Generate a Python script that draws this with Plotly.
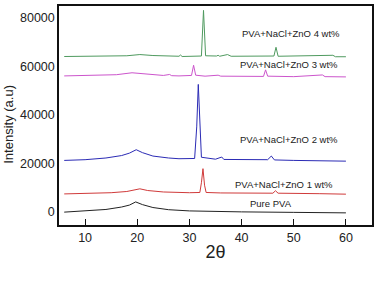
import plotly.graph_objects as go

# Pure PVA
x_pva = [6, 10, 14, 17, 18.5, 19.7, 21, 23, 26, 30, 35, 40, 50, 60]
y_pva = [-100, 300, 1000, 2000, 2800, 4100, 3000, 1800, 900, 400, 100, 0, -200, -400]

# 1 wt%
x_1 = [6, 10, 15, 18, 20.5, 22, 25, 30, 32, 32.3, 32.6, 32.9, 33.2, 36, 46, 46.5, 47, 55, 60]
y_1 = [7400, 7500, 7900, 8400, 9500, 8800, 8200, 7900, 8000, 12000, 17800, 11000, 8000, 7800, 7700, 8700, 7700, 7500, 7300]

# 2 wt%
x_2 = [6, 10, 14, 17, 18.5, 19.8, 21, 23, 26, 28, 31, 31.4, 31.7, 32.0, 32.3, 35, 36.2, 36.6, 45, 45.7, 46.3, 50, 56, 60]
y_2 = [21200, 21500, 22200, 23200, 24200, 25600, 24400, 23000, 22200, 21900, 22000, 35000, 52500, 35000, 22500, 21700, 22600, 21600, 21500, 23000, 21400, 21200, 21100, 20900]

# 3 wt%
x_3 = [6, 12, 16, 19, 21, 25, 26.2, 26.6, 28, 30.4, 30.8, 31.2, 33, 35.5, 36, 44.2, 44.6, 45, 50, 55.5, 56, 60]
y_3 = [56000, 56200, 56500, 57300, 56900, 56200, 56600, 56100, 56000, 56200, 60400, 56300, 55900, 56300, 55900, 55800, 58500, 55900, 55700, 56400, 55700, 55600]

# 4 wt%
x_4 = [6, 12, 18, 20.5, 23, 28, 28.3, 28.6, 32.3, 32.7, 33.1, 35.2, 35.5, 35.8, 37.3, 38, 46.2, 46.6, 47, 57.5, 58, 60]
y_4 = [64000, 64100, 64300, 64800, 64400, 64100, 64600, 64000, 64200, 83000, 64300, 64200, 64500, 64100, 64800, 64100, 64200, 67800, 64100, 64500, 63900, 63900]

series = [
    (x_pva, y_pva, "#222222"),
    (x_1, y_1, "#d03a3a"),
    (x_2, y_2, "#2b2bb5"),
    (x_3, y_3, "#cc55cc"),
    (x_4, y_4, "#4f9a5f"),
]

label_text = ["Pure PVA", "PVA+NaCl+ZnO 1 wt%", "PVA+NaCl+ZnO 2 wt%", "PVA+NaCl+ZnO 3 wt%", "PVA+NaCl+ZnO 4 wt%"]
label_x = [45.6, 48.2, 49.0, 49.1, 49.5]
label_y = [3400, 11300, 29700, 60600, 73300]

x_ticks = [10, 20, 30, 40, 50, 60]
y_ticks = [0, 20000, 40000, 60000, 80000]
y_tick_text = ["0", "20000", "40000", "60000", "80000"]

fig = go.Figure()
for xs, ys, c in series:
    fig.add_trace(go.Scatter(x=xs, y=ys, mode="lines", line=dict(color=c, width=1), showlegend=False))

for t, lx, ly in zip(label_text, label_x, label_y):
    fig.add_annotation(x=lx, y=ly, text=t, showarrow=False,
                       font=dict(family="Liberation Sans, Arial", size=9.5, color="#222"))

fig.add_annotation(xref="paper", yref="paper", x=-0.162, xanchor="center", y=0.459, yanchor="middle",
                   text="Intensity (a.u)", textangle=-90, showarrow=False,
                   font=dict(family="Liberation Sans, Arial", size=13, color="#222"))

fig.update_layout(
    width=378, height=308,
    margin=dict(l=59, r=5, t=4, b=83),
    paper_bgcolor="white", plot_bgcolor="white",
    font=dict(family="Liberation Sans, Arial", color="#222"),
)
fig.update_xaxes(range=[5, 65], tickvals=x_ticks, ticks="inside", ticklen=6, tickwidth=1.2,
                 tickcolor="#111", showline=True, linecolor="#111", linewidth=1.5, mirror=True,
                 showgrid=False, zeroline=False, tickfont=dict(size=12.5),
                 title=dict(text="2θ", font=dict(size=18), standoff=2))
fig.update_yaxes(range=[-5400, 84800], tickvals=y_ticks, ticktext=y_tick_text, ticks="",
                 showline=True, linecolor="#111", linewidth=1.5, mirror=True, showgrid=False,
                 zeroline=False, tickfont=dict(size=12.5))

fig.write_html("out.html")
